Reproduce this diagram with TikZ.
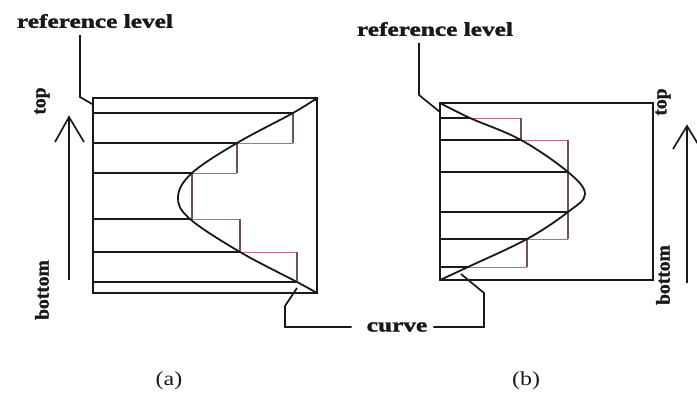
\documentclass[tikz,border=0pt]{standalone}
\usepackage{fontspec}
\setmainfont{Liberation Serif}[BoldFeatures={FakeBold=1.5}]
\newcommand\sx[1]{\scalebox{1.3}[1]{#1}}
\definecolor{ink}{RGB}{25,25,25}
\definecolor{stepv}{RGB}{110,80,100}
\definecolor{stepr}{RGB}{200,105,115}
\tikzset{
  frame/.style={draw=ink, line width=2.3pt},
  hline/.style={draw=ink, line width=2.1pt},
  ext/.style={draw=stepr, line width=0.9pt},
  vstep/.style={draw=stepv, line width=1.1pt},
  crv/.style={draw=ink, line width=1.8pt},
  lead/.style={draw=ink, line width=1.7pt},
  lbl/.style={font=\bfseries\fontsize{19.5}{20}\selectfont, inner sep=0pt, text=ink},
  captxt/.style={font=\fontsize{20}{22}\selectfont, inner sep=0pt, text=ink},
  arr/.style={draw=ink, line width=1.7pt},
}
\begin{document}
\begin{tikzpicture}[x=1pt,y=-1pt]
\useasboundingbox (0,0) rectangle (697,396);
\fill[white] (0,0) rectangle (697,396);

% ---------------- (a) ----------------
\coordinate (A1) at (93,98);
\coordinate (A2) at (317,293);
\foreach \y/\xc/\xs in {113/293/293, 143/237/293, 173/192/237, 219/190/240, 252/240/297, 282/297/297}{
  \draw[hline] (93,\y) -- (\xc,\y);
  \draw[ext] (\xc,\y) -- (\xs,\y);
}
\foreach \x/\ya/\yb in {293/113/143, 237/143/173, 192/173/219, 240/219/252, 297/252/282}{
  \draw[vstep] (\x,\ya) -- (\x,\yb);
}
\draw[frame] (A1) rectangle (A2);
\draw[crv] plot[smooth, tension=0.6] coordinates {(317,98) (293,113) (237,143) (192,173) (178,197) (190,219) (240,252) (297,282) (317,293)};
\fill[ink] (316,99) circle (2.3pt);

\node[lbl] (refa) at (95,21) {\sx{reference level}};
\coordinate (ra1) at (80,35);
\coordinate (ra2) at (80,97);
\coordinate (ra3) at (92,104);
\draw[lead] (ra1) -- (ra2) -- (ra3);

\node[lbl, rotate=90] (topa) at (42,101) {top};
\node[lbl, rotate=90] (bota) at (42,290) {bottom};
\coordinate (aa0) at (69,280);
\coordinate (aa1) at (69,117);
\coordinate (aal) at (55,142);
\coordinate (aar) at (84,142);
\draw[arr] (aa0) -- (aa1);
\draw[arr] (aal) -- (aa1) -- (aar);

% ---------------- (b) ----------------
\coordinate (B1) at (440,103);
\coordinate (B2) at (653,280);
\foreach \y/\xc/\xs in {118/470/521, 140/521/568, 172/568/568, 212/568/568, 239/527/568, 267/468/527}{
  \draw[hline] (440,\y) -- (\xc,\y);
  \draw[ext] (\xc,\y) -- (\xs,\y);
}
\foreach \x/\ya/\yb in {521/118/140, 568/140/239, 527/239/267}{
  \draw[vstep] (\x,\ya) -- (\x,\yb);
}
\draw[frame] (B1) rectangle (B2);
\draw[crv] plot[smooth, tension=0.6] coordinates {(440,103) (470,118) (521,140) (568,172) (585,194) (568,212) (527,239) (468,267) (440,280)};

\node[lbl] (refb) at (435,29) {\sx{reference level}};
\coordinate (rb1) at (419,43);
\coordinate (rb2) at (419,95);
\coordinate (rb3) at (440,112);
\draw[lead] (rb1) -- (rb2) -- (rb3);

\node[lbl, rotate=90] (topb) at (663,102) {top};
\node[lbl, rotate=90] (botb) at (663,275) {bottom};
\coordinate (ba0) at (687,283);
\coordinate (ba1) at (687,126);
\coordinate (bal) at (673,149);
\coordinate (bar) at (701,149);
\draw[arr] (ba0) -- (ba1);
\draw[arr] (bal) -- (ba1) -- (bar);

% ---------------- curve label ----------------
\node[lbl] (crvl) at (397,327) {\sx{curve}};
\coordinate (cl1) at (285,327);
\coordinate (cl2) at (285,306);
\coordinate (cl3) at (297,288);
\draw[lead] (crvl.west) ++(-15,0) -- (cl1) -- (cl2) -- (cl3);
\coordinate (cr1) at (484,327);
\coordinate (cr2) at (484,293);
\coordinate (cr3) at (461,274);
\draw[lead] (crvl.east) ++(6,0) -- (cr1) -- (cr2) -- (cr3);

% captions
\node[captxt] (capa) at (169,381) {\scalebox{1.2}[1]{(a)}};
\node[captxt] (capb) at (526,381) {\scalebox{1.2}[1]{(b)}};
\end{tikzpicture}
\end{document}
